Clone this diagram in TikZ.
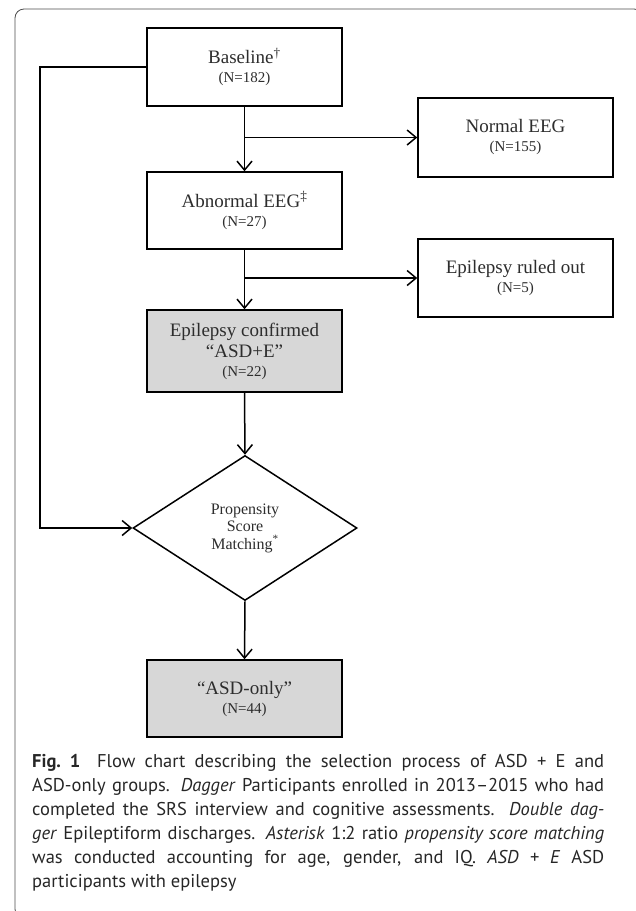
\documentclass[tikz,border=0pt]{standalone}
\usepackage{fontspec}
\setmainfont{Liberation Serif}
\newfontfamily\capfont{PT Sans}
\usetikzlibrary{shapes.geometric,arrows.meta}
\definecolor{boxgray}{RGB}{215,215,215}
\definecolor{txtgray}{RGB}{45,45,45}
\newcommand\nnum[1]{\\[-1pt]{\fontsize{15}{16}\selectfont #1}}
\newcommand\capline[1]{\makebox[572pt][s]{#1}}
\begin{document}
\begin{tikzpicture}[x=1pt,y=-1pt,
  box/.style={draw=black, line width=1.5pt, minimum width=195pt, inner sep=0pt,
    align=center, text=txtgray, font=\fontsize{19}{20}\selectfont},
  grayfill/.style={fill=boxgray},
  conn/.style={draw=black, line width=1.5pt,
    -{Straight Barb[length=9pt,width=15pt,line width=1.5pt]}},
  frame/.style={draw=black!70, line width=0.8pt, rounded corners=9pt}]
\useasboundingbox (0,0) rectangle (636,911);
\draw[frame] (15,9) rectangle (643,918);

\node[box, minimum height=78pt] (base) at (244.5,67) {Baseline\textsuperscript{†}\nnum{(N=182)}};
\node[box, minimum height=79pt] (normal) at (515.5,137.5) {Normal EEG\nnum{(N=155)}};
\node[box, minimum height=77pt] (abn) at (244.5,210.5) {Abnormal EEG\textsuperscript{‡}\nnum{(N=27)}};
\node[box, minimum height=78pt] (ruled) at (515.5,278) {Epilepsy ruled out\nnum{(N=5)}};
\node[box, grayfill, minimum height=82pt] (conf) at (244.5,351) {Epilepsy confirmed\\[1pt]“ASD+E”\nnum{(N=22)}};
\node[draw=black, line width=1.5pt, diamond, minimum width=224pt, minimum height=145pt,
  inner sep=0pt, align=center, text=txtgray, font=\fontsize{16}{17.5}\selectfont]
  (dia) at (245,528) {Propensity\\Score\\Matching\textsuperscript{*}};
\node[box, grayfill, minimum height=77pt] (only) at (244.5,698.5) {“ASD-only”\nnum{(N=44)}};

\coordinate (L) at (40,0);
\coordinate (b1) at (base.south |- normal.west);
\coordinate (b2) at (abn.south |- ruled.west);

\draw[conn] (base.south) -- (abn.north);
\draw[conn] (b1) -- (normal.west);
\draw[conn] (abn.south) -- (conf.north);
\draw[conn] (b2) -- (ruled.west);
\draw[conn] (conf.south) -- (dia.north);
\draw[conn] (dia.south) -- (only.north);
\draw[conn] (base.west) -- (base.west -| L) |- (dia.west);

\node[anchor=north west, inner sep=0pt, align=left,
  font=\capfont\fontsize{18.5}{24}\selectfont, text=black!85] (cap) at (32,754)
  {\capline{\textbf{Fig.~1}\hspace{0.4em} Flow chart describing the selection process of ASD + E and}\\
  \capline{ASD-only groups. \textit{Dagger} Participants enrolled in 2013–2015 who had}\\
  \capline{completed the SRS interview and cognitive assessments. \textit{Double dag-}}\\
  \capline{\textit{ger} Epileptiform discharges. \textit{Asterisk} 1:2 ratio \textit{propensity score matching}}\\
  \capline{was conducted accounting for age, gender, and IQ. \textit{ASD + E} ASD}\\
  participants with epilepsy};
\end{tikzpicture}
\end{document}
